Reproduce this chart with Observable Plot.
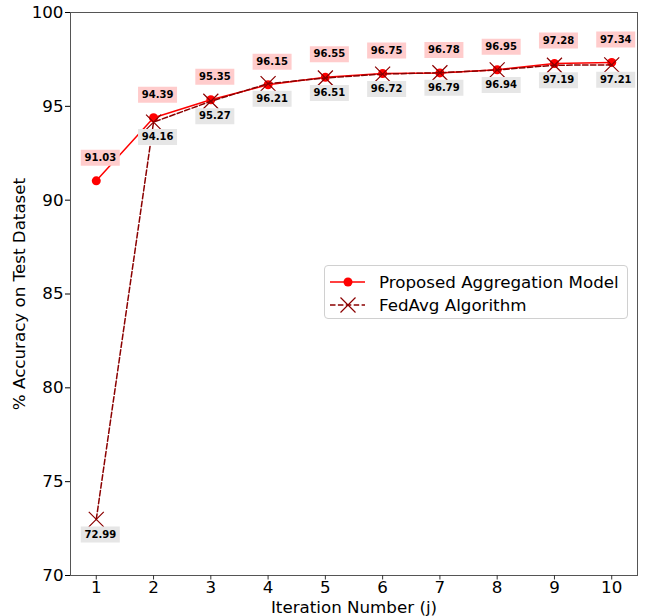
<!DOCTYPE html>
<html>
<head>
<meta charset="utf-8">
<script src="https://cdn.jsdelivr.net/npm/d3@7"></script>
<script src="https://cdn.jsdelivr.net/npm/@observablehq/plot@0.6"></script>
<style>
  html, body { margin: 0; padding: 0; background: #fff; }
  #wrap { position: relative; width: 645px; height: 616px; font-family: "DejaVu Sans", sans-serif; }
  #legend {
    position: absolute; left: 324px; top: 265px; width: 304px; height: 54px;
    border: 1px solid #d0d0d0; border-radius: 4px; background: rgba(255,255,255,0.8);
    box-sizing: border-box;
  }
  .row { position: absolute; left: 0; height: 22px; display: flex; align-items: center; }
  .row span { font-size: 16.7px; color: #000; margin-left: 10px; white-space: nowrap; }
</style>
</head>
<body>
<div id="wrap">
  <div id="chart"></div>
  <div id="legend">
    <div class="row" style="top:5px">
      <svg width="44" height="22"><line x1="5" x2="40" y1="11" y2="11" stroke="#ff0000" stroke-width="1.5"/><circle cx="23" cy="11" r="4.5" fill="#ff0000"/></svg>
      <span>Proposed Aggregation Model</span>
    </div>
    <div class="row" style="top:28px">
      <svg width="44" height="22"><line x1="5" x2="40" y1="11" y2="11" stroke="#8b0000" stroke-width="1.5" stroke-dasharray="5.5,2.4"/><path d="M15.5,3.5L30.5,18.5M15.5,18.5L30.5,3.5" stroke="#8b0000" stroke-width="1.2" fill="none"/></svg>
      <span>FedAvg Algorithm</span>
    </div>
  </div>
</div>
<script>
// Test accuracy per training iteration
const iterations = [1, 2, 3, 4, 5, 6, 7, 8, 9, 10];
const proposed = [91.03, 94.39, 95.35, 96.15, 96.55, 96.75, 96.78, 96.95, 97.28, 97.34];
const fedavg   = [72.99, 94.16, 95.27, 96.21, 96.51, 96.72, 96.79, 96.94, 97.19, 97.21];
const yTicks = [70, 75, 80, 85, 90, 95, 100];

const propData = iterations.map((j, i) => ({j, acc: proposed[i]}));
const fedData  = iterations.map((j, i) => ({j, acc: fedavg[i]}));

// Fixed-size label background box and an "x" marker
const labelBox = {draw(ctx) { ctx.rect(-19.5, -8, 39, 16); }};
const cross = {draw(ctx) { const h = 7.5; ctx.moveTo(-h, -h); ctx.lineTo(h, h); ctx.moveTo(-h, h); ctx.lineTo(h, -h); }};

const fmt = d => d.toFixed(2);

const chart = Plot.plot({
  width: 645,
  height: 616,
  marginLeft: 70,
  marginRight: 8,
  marginTop: 12,
  marginBottom: 41,
  style: {fontFamily: "DejaVu Sans, sans-serif", fontSize: "16.7px", color: "#000", background: "#fff"},
  x: {domain: [0.55, 10.45]},
  y: {domain: [70, 100]},
  marks: [
    Plot.frame({stroke: "#555", strokeWidth: 1}),
    Plot.axisX({ticks: iterations, tickFormat: d => String(d), tickSize: 4.5, tickPadding: 1,
      label: "Iteration Number (j)", labelAnchor: "center", labelArrow: "none", labelOffset: 37.5, fontSize: 16.7, stroke: "#333"}),
    Plot.axisY({ticks: yTicks, tickFormat: d => String(d), tickSize: 5, tickPadding: 2,
      label: "% Accuracy on Test Dataset", labelAnchor: "center", labelArrow: "none", labelOffset: 57, fontSize: 16.7}),
    Plot.line(propData, {x: "j", y: "acc", stroke: "#ff0000", strokeWidth: 1.5}),
    Plot.dot(propData, {x: "j", y: "acc", fill: "#ff0000", r: 4.5}),
    Plot.line(fedData, {x: "j", y: "acc", stroke: "#8b0000", strokeWidth: 1.5, strokeDasharray: "5.5,2.4"}),
    Plot.dot(fedData, {x: "j", y: "acc", symbol: cross, stroke: "#8b0000", strokeWidth: 1.2, fill: "none"}),
    // value labels: proposed above, FedAvg below
    Plot.dot(propData, {x: "j", y: "acc", symbol: labelBox, fill: "#ffcccc", stroke: "none", dx: 4, dy: -23}),
    Plot.text(propData, {x: "j", y: "acc", text: d => fmt(d.acc), dx: 4, dy: -23, fontSize: 10, fontWeight: "bold", fill: "#000"}),
    Plot.dot(fedData, {x: "j", y: "acc", symbol: labelBox, fill: "#e6e6e6", stroke: "none", dx: 4, dy: 15}),
    Plot.text(fedData, {x: "j", y: "acc", text: d => fmt(d.acc), dx: 4, dy: 15, fontSize: 10, fontWeight: "bold", fill: "#000"})
  ]
});
document.getElementById("chart").appendChild(chart);
</script>
</body>
</html>
